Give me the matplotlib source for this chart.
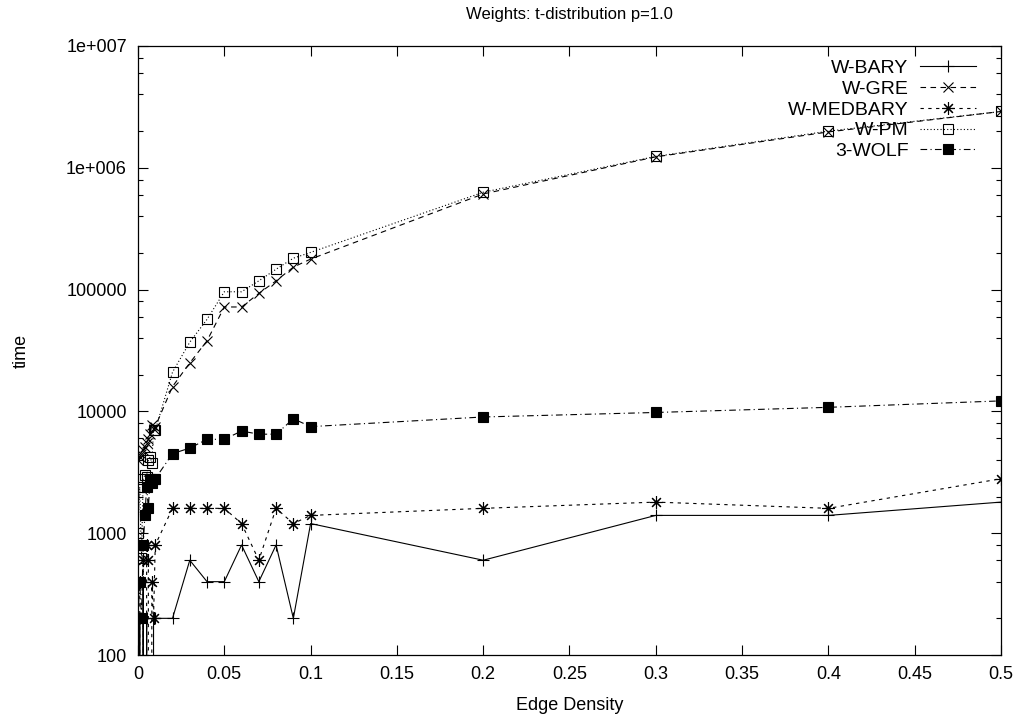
import matplotlib
matplotlib.use('Agg')
import matplotlib.pyplot as plt
from matplotlib.ticker import FixedLocator, FixedFormatter, NullFormatter

plt.rcParams['font.family'] = ['Liberation Sans', 'DejaVu Sans']
plt.rcParams['font.size'] = 13

# edge density values
density = [0, 0.001, 0.002, 0.003, 0.004, 0.005, 0.006, 0.007, 0.008, 0.009, 0.01,
           0.02, 0.03, 0.04, 0.05, 0.06, 0.07, 0.08, 0.09, 0.1,
           0.2, 0.3, 0.4, 0.5]

# running times (0 = nothing measurable, drops to the axis)
w_bary = [0, 200, 0, 400, 0, 200, 0, 0, 0, 200, 200,
          200, 600, 400, 400, 800, 400, 800, 200, 1200,
          600, 1400, 1400, 1800]
w_gre = [4000, 4200, 4500, 4800, 5100, 5500, 5900, 6500, 7700, 7200, 7500,
         16000, 25000, 38000, 72000, 72000, 93000, 118000, 153000, 178000,
         610000, 1230000, 1970000, 2900000]
w_medbary = [400, 400, 0, 600, 0, 800, 600, 0, 400, 200, 800,
             1600, 1600, 1600, 1600, 1200, 600, 1600, 1200, 1400,
             1600, 1800, 1600, 2800]
w_pm = [1000, 2400, 620, 2800, 3000, 2900, 4000, 4200, 3800, 7000, 7000,
        21000, 37000, 57000, 96000, 96000, 118000, 147000, 181000, 202000,
        630000, 1240000, 2000000, 2900000]
wolf3 = [200, 400, 200, 800, 1400, 2400, 1600, 2800, 2600, 2800, 2800,
         4500, 5000, 5900, 5900, 6900, 6500, 6500, 8700, 7500,
         9000, 9800, 10800, 12200]

ytick_vals = [100, 1000, 10000, 100000, 1000000, 10000000]
ytick_labels = ['100', '1000', '10000', '100000', '1e+006', '1e+007']
xtick_vals = [0, 0.05, 0.1, 0.15, 0.2, 0.25, 0.3, 0.35, 0.4, 0.45, 0.5]
xtick_labels = ['0', '0.05', '0.1', '0.15', '0.2', '0.25', '0.3', '0.35', '0.4', '0.45', '0.5']

fig = plt.figure(figsize=(10.2, 7.14), dpi=100)
ax = fig.add_axes([138/1020, 1 - 655/714, (1001 - 138)/1020, (655 - 46)/714])

lw = 0.8
ax.plot(density, w_bary, color='black', lw=lw, ls='-', marker='+', ms=9, mew=0.8, label='W-BARY')
ax.plot(density, w_gre, color='black', lw=lw, ls=(0, (5, 4)), marker='x', ms=7, mew=0.8, label='W-GRE')
ax.plot(density, w_medbary, color='black', lw=lw, ls=(0, (3, 4)), marker=(8, 2, 0), ms=9, mew=0.8, label='W-MEDBARY')
ax.plot(density, w_pm, color='black', lw=lw, ls=(0, (1, 2)), marker='s', ms=7, mfc='none', mew=0.8, label='W-PM')
ax.plot(density, wolf3, color='black', lw=lw, ls=(0, (6, 3, 1, 3)), marker='s', ms=7, mfc='black', mew=0.8, label='3-WOLF')

ax.set_yscale('log')
ax.set_xlim(0, 0.5)
ax.set_ylim(100, 1e7)

ax.yaxis.set_major_locator(FixedLocator(ytick_vals))
ax.yaxis.set_major_formatter(FixedFormatter(ytick_labels))
minor = [m * 10**e for e in range(2, 7) for m in (2, 4, 6, 8)]
ax.yaxis.set_minor_locator(FixedLocator(minor))
ax.yaxis.set_minor_formatter(NullFormatter())
ax.xaxis.set_major_locator(FixedLocator(xtick_vals))
ax.xaxis.set_major_formatter(FixedFormatter(xtick_labels))

ax.tick_params(which='major', direction='in', length=7, width=0.8, top=True, right=True, pad=8)
ax.tick_params(which='minor', direction='in', length=3.5, width=0.8, top=True, right=True)
for s in ax.spines.values():
    s.set_linewidth(0.9)

ax.set_xlabel('Edge Density', labelpad=10)
ax.set_ylabel('time', labelpad=26)
fig.text(569/1020, 1 - 14/714, 'Weights: t-distribution p=1.0', ha='center', va='center', fontsize=12)

leg = ax.legend(loc='upper right', bbox_to_anchor=(0.992, 1.008), frameon=False,
                markerfirst=False, handlelength=2.85, labelspacing=0.16, handletextpad=0.6,
                borderaxespad=0.5, borderpad=0.45, fontsize=14)
for vp in leg._legend_box._children[-1]._children:
    vp.align = 'right'

fig.savefig('out.png', dpi=100)
